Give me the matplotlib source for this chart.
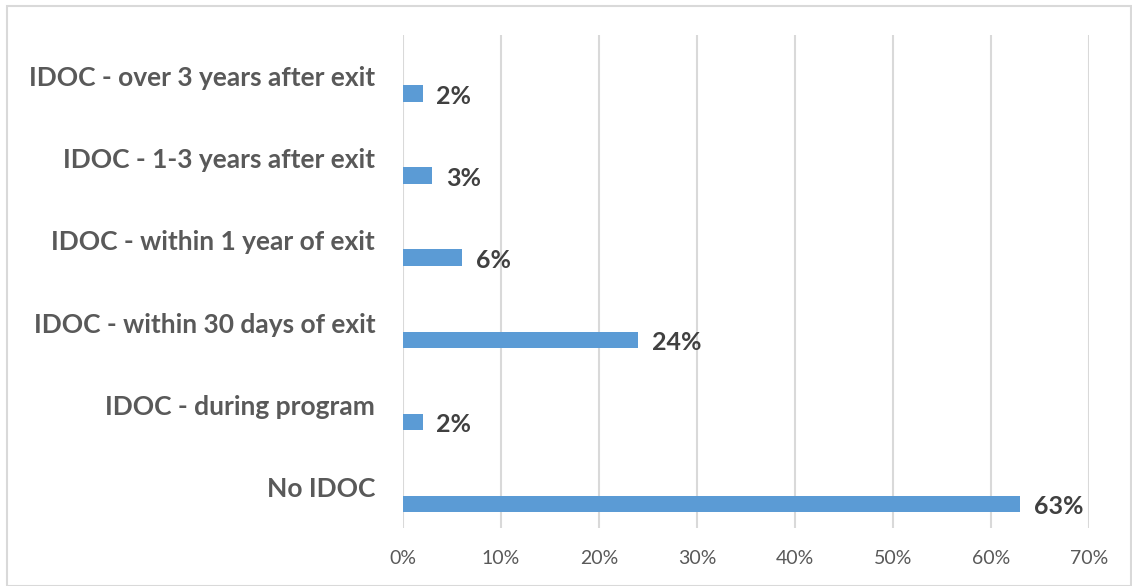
import matplotlib
matplotlib.use('Agg')
from matplotlib import pyplot as plt
from matplotlib.patches import Rectangle
import numpy as np

categories = ['No IDOC', 'IDOC - during program', 'IDOC - within 30 days of exit',
              'IDOC - within 1 year of exit', 'IDOC - 1-3 years after exit',
              'IDOC - over 3 years after exit']
values = [0.63, 0.02, 0.24, 0.06, 0.03, 0.02]
value_labels = ['63%', '2%', '24%', '6%', '3%', '2%']
xticks = [0, 0.1, 0.2, 0.3, 0.4, 0.5, 0.6, 0.7]
xtick_labels = ['0%', '10%', '20%', '30%', '40%', '50%', '60%', '70%']

plt.rcParams['font.family'] = ['Lato', 'DejaVu Sans']

W, H = 1132, 586
fig = plt.figure(figsize=(W / 100, H / 100), dpi=100)
ax = fig.add_axes([403 / W, 1 - 528 / H, (1089 - 403) / W, (528 - 35) / H])

# light frame around the chart area
fig.patches.append(Rectangle((7 / W, 0), 1 - 7 / W - 1 / W, 1 - 5 / H - 1 / H,
                             transform=fig.transFigure, fill=False,
                             edgecolor='#d9d9d9', linewidth=1.5))

y = np.arange(len(categories))
bar_y = y - 0.21
ax.barh(bar_y, values, height=0.2, color='#5b9bd5')

for by, v, lab in zip(bar_y, values, value_labels):
    ax.annotate(lab, (v, by), xytext=(10, -2), textcoords='offset points',
                ha='left', va='center', fontsize=18, fontweight='bold',
                color='#404040')

ax.set_xlim(0, 0.7)
ax.set_ylim(-0.5, len(categories) - 0.5)
ax.set_xticks(xticks)
ax.set_xticklabels(xtick_labels)
ax.set_yticks(y)
ax.set_yticklabels(categories, fontsize=19, fontweight='bold', color='#595959')
ax.tick_params(axis='x', labelsize=14, colors='#595959', length=0, pad=16)
ax.tick_params(axis='y', length=0, pad=20)

ax.grid(axis='x', color='#d9d9d9', linewidth=1.5)
ax.set_axisbelow(True)
for s in ax.spines.values():
    s.set_visible(False)

fig.savefig('out.png', dpi=100)
